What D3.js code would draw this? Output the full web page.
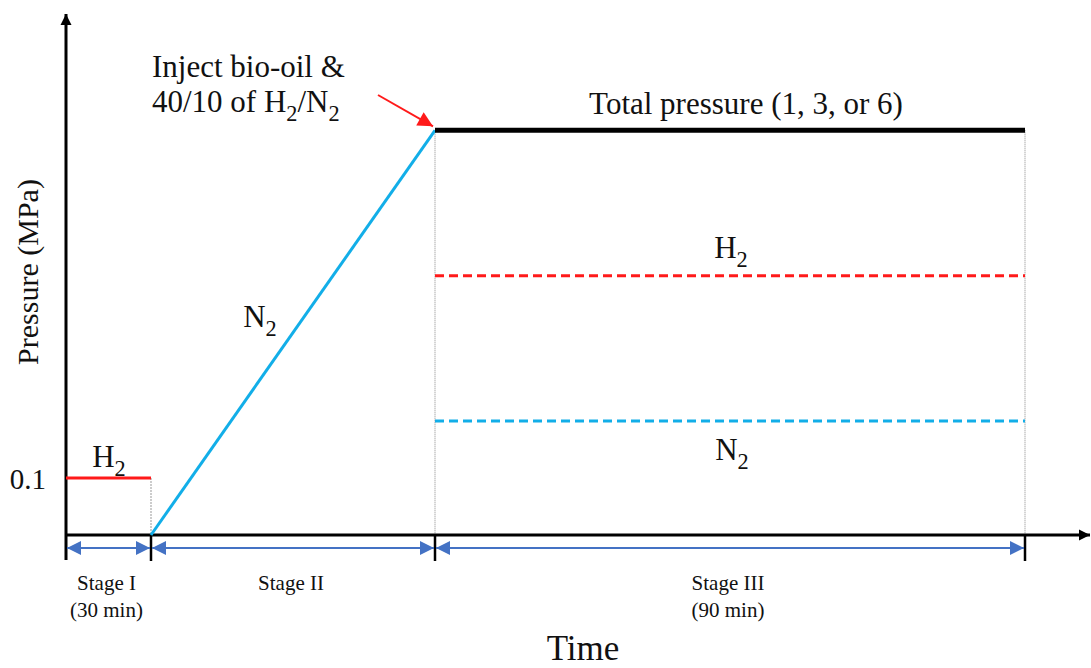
<!DOCTYPE html>
<html>
<head>
<meta charset="utf-8">
<title>Pressure schedule</title>
<script src="https://cdnjs.cloudflare.com/ajax/libs/d3/7.8.5/d3.min.js"></script>
<style>
body { margin: 0; background: white; }
text { font-family: "Liberation Serif", "Times New Roman", serif; fill: #111; }
</style>
</head>
<body>
<div id="chart"></div>
<script>
// stage boundaries (schematic time units) and labels
var stageBounds = [0, 30, 60, 150];
var stageNames = ["Stage I", "Stage II", "Stage III"];
var stageNotes = ["(30 min)", "", "(90 min)"];

// schematic pressures (MPa-like units)
var h2Initial = 0.1;
var totalPressure = 0.71;
var h2Partial = 0.455;
var n2Partial = 0.2;

var W = 1091, H = 668;
var svg = d3.select("#chart").append("svg")
  .attr("width", W).attr("height", H);

var defs = svg.append("defs");
function marker(id, color, w, h) {
  defs.append("marker")
    .attr("id", id)
    .attr("viewBox", "0 0 10 10")
    .attr("refX", 10).attr("refY", 5)
    .attr("markerUnits", "userSpaceOnUse")
    .attr("markerWidth", w).attr("markerHeight", h)
    .attr("orient", "auto-start-reverse")
    .append("path").attr("d", "M0,0L10,5L0,10z").attr("fill", color);
}
marker("blk", "#000", 11, 12);
marker("blu", "#4472C4", 14, 14);
marker("red", "#ff1a1a", 18, 15);

// piecewise schematic time scale
var x = d3.scaleLinear().domain(stageBounds).range([66, 151, 435, 1025]);
var y = d3.scaleLinear().domain([0, 1]).range([535, -35]);

var x0 = x(0), y0 = y(0);

// guides (thin dotted vertical)
svg.append("line")
  .attr("x1", x(30)).attr("x2", x(30))
  .attr("y1", y(h2Initial)).attr("y2", y0)
  .attr("stroke", "#999").attr("stroke-width", 1).attr("stroke-dasharray", "2,1");
[60, 150].forEach(function (t) {
  svg.append("line")
    .attr("x1", x(t)).attr("x2", x(t))
    .attr("y1", y(totalPressure)).attr("y2", y0)
    .attr("stroke", "#888").attr("stroke-width", 1).attr("stroke-dasharray", "1,1");
});

// axes
svg.append("line")
  .attr("x1", x0).attr("x2", x0).attr("y1", 560).attr("y2", 14)
  .attr("stroke", "#000").attr("stroke-width", 3).attr("marker-end", "url(#blk)");
svg.append("line")
  .attr("x1", x0 - 1).attr("x2", 1090).attr("y1", y0).attr("y2", y0)
  .attr("stroke", "#000").attr("stroke-width", 3).attr("marker-end", "url(#blk)");

// tick marks at stage boundaries
svg.selectAll(".tick").data(stageBounds.slice(1)).enter().append("line")
  .attr("x1", d => x(d)).attr("x2", d => x(d))
  .attr("y1", y0).attr("y2", 561)
  .attr("stroke", "#000").attr("stroke-width", 2.5);

// stage arrows
for (var i = 0; i < 3; i++) {
  svg.append("line")
    .attr("x1", x(stageBounds[i]) + 1).attr("x2", x(stageBounds[i + 1]) - 1)
    .attr("y1", 548).attr("y2", 548)
    .attr("stroke", "#4472C4").attr("stroke-width", 2)
    .attr("marker-start", "url(#blu)").attr("marker-end", "url(#blu)");
  var cx = (x(stageBounds[i]) + x(stageBounds[i + 1])) / 2 - 2;
  svg.append("text").attr("x", cx).attr("y", 590)
    .attr("text-anchor", "middle").attr("font-size", 21).text(stageNames[i]);
  if (stageNotes[i]) {
    svg.append("text").attr("x", cx).attr("y", 617)
      .attr("text-anchor", "middle").attr("font-size", 21).text(stageNotes[i]);
  }
}

// stage I H2 line
svg.append("line")
  .attr("x1", x(0)).attr("x2", x(30))
  .attr("y1", y(h2Initial)).attr("y2", y(h2Initial))
  .attr("stroke", "#ff1a1a").attr("stroke-width", 3);

// stage II N2 ramp
svg.append("line")
  .attr("x1", x(30)).attr("y1", y(0))
  .attr("x2", x(60)).attr("y2", y(totalPressure))
  .attr("stroke", "#12aee8").attr("stroke-width", 3);

// stage III lines
svg.append("line")
  .attr("x1", x(60)).attr("x2", x(150))
  .attr("y1", y(totalPressure)).attr("y2", y(totalPressure))
  .attr("stroke", "#000").attr("stroke-width", 5);
svg.append("line")
  .attr("x1", x(60)).attr("x2", x(150))
  .attr("y1", y(h2Partial)).attr("y2", y(h2Partial))
  .attr("stroke", "#ff1a1a").attr("stroke-width", 3).attr("stroke-dasharray", "9,5");
svg.append("line")
  .attr("x1", x(60)).attr("x2", x(150))
  .attr("y1", y(n2Partial)).attr("y2", y(n2Partial))
  .attr("stroke", "#12aee8").attr("stroke-width", 3).attr("stroke-dasharray", "9,5");

// red injection arrow
svg.append("line")
  .attr("x1", 378).attr("y1", 95)
  .attr("x2", x(60) - 2).attr("y2", y(totalPressure) - 4)
  .attr("stroke", "#ff1a1a").attr("stroke-width", 2).attr("marker-end", "url(#red)");

// text with subscripts
function chem(px, py, size, parts, anchor) {
  var t = svg.append("text").attr("x", px).attr("y", py)
    .attr("font-size", size).attr("text-anchor", anchor || "start");
  parts.forEach(function (p) {
    if (p[1]) {
      t.append("tspan").attr("font-size", size * 0.72).attr("dy", size * 0.28).text(p[0]);
    } else {
      t.append("tspan").attr("dy", p[2] ? -size * 0.28 : 0).text(p[0]);
    }
  });
  return t;
}

chem(109, 467, 31, [["H"], ["2", true]], "middle");
chem(260, 327, 31, [["N"], ["2", true]], "middle");
chem(731, 258, 31, [["H"], ["2", true]], "middle");
chem(732, 460, 31, [["N"], ["2", true]], "middle");

svg.append("text").attr("x", 746).attr("y", 114)
  .attr("text-anchor", "middle").attr("font-size", 31)
  .text("Total pressure (1, 3, or 6)");

svg.append("text").attr("x", 152).attr("y", 77)
  .attr("font-size", 31).text("Inject bio-oil &");
chem(152, 112, 31, [["40/10 of H"], ["2", true], ["/N", false, true], ["2", true]]);

svg.append("text").attr("x", 46).attr("y", 489)
  .attr("text-anchor", "end").attr("font-size", 29).text("0.1");

svg.append("text")
  .attr("transform", "translate(38,272) rotate(-90)")
  .attr("text-anchor", "middle").attr("font-size", 30).text("Pressure (MPa)");

svg.append("text").attr("x", 583).attr("y", 660)
  .attr("text-anchor", "middle").attr("font-size", 35).text("Time");
</script>
</body>
</html>
